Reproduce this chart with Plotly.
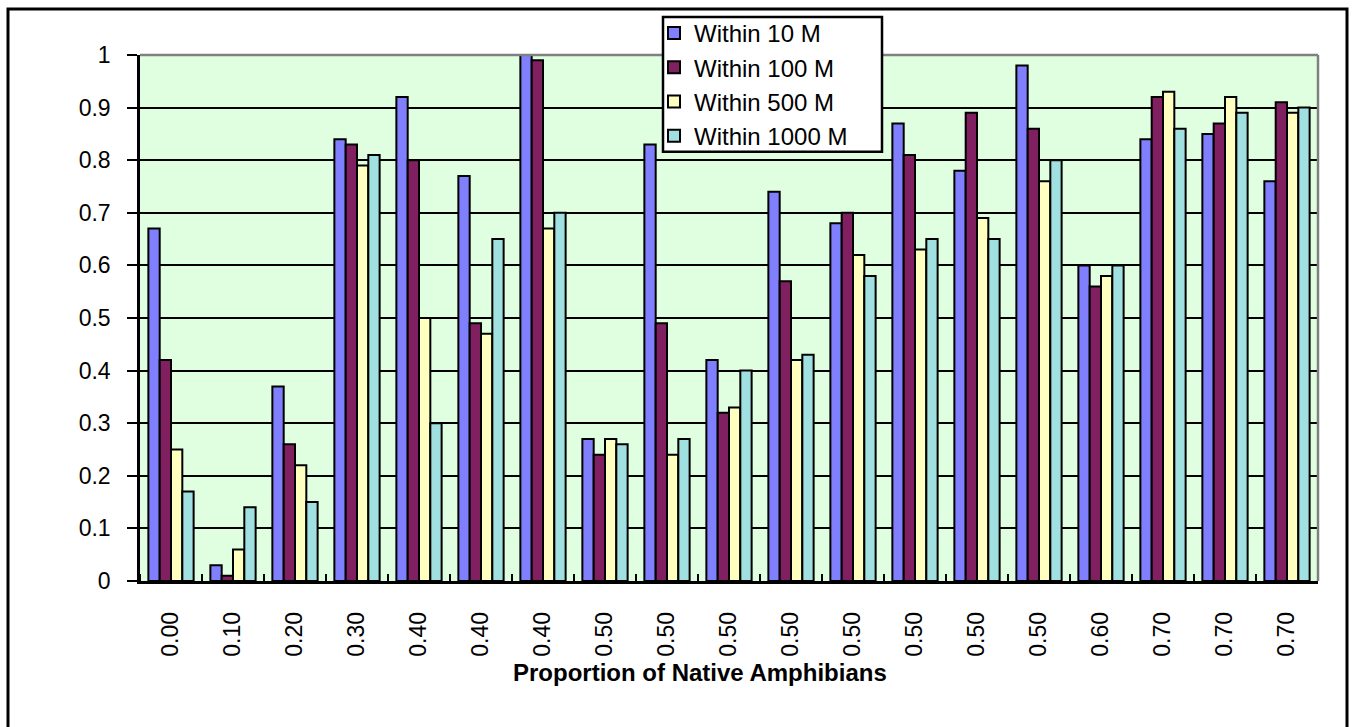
import plotly.graph_objects as go

labels = ["0.00", "0.10", "0.20", "0.30", "0.40", "0.40", "0.40", "0.50", "0.50", "0.50",
          "0.50", "0.50", "0.50", "0.50", "0.50", "0.60", "0.70", "0.70", "0.70"]
w10 = [0.67, 0.03, 0.37, 0.84, 0.92, 0.77, 1.00, 0.27, 0.83, 0.42,
       0.74, 0.68, 0.87, 0.78, 0.98, 0.60, 0.84, 0.85, 0.76]
w100 = [0.42, 0.01, 0.26, 0.83, 0.80, 0.49, 0.99, 0.24, 0.49, 0.32,
        0.57, 0.70, 0.81, 0.89, 0.86, 0.56, 0.92, 0.87, 0.91]
w500 = [0.25, 0.06, 0.22, 0.79, 0.50, 0.47, 0.67, 0.27, 0.24, 0.33,
        0.42, 0.62, 0.63, 0.69, 0.76, 0.58, 0.93, 0.92, 0.89]
w1000 = [0.17, 0.14, 0.15, 0.81, 0.30, 0.65, 0.70, 0.26, 0.27, 0.40,
         0.43, 0.58, 0.65, 0.65, 0.80, 0.60, 0.86, 0.89, 0.90]
series_names = ["Within 10 M", "Within 100 M", "Within 500 M", "Within 1000 M"]
series_colors = ["#8080FF", "#802060", "#FFFFC0", "#A0E0E0"]

W, H = 1352, 727
L, R, T, B = 140, 1318, 54, 581  # plot area in pixels
pw, ph = R - L, B - T

def px(xp):
    return (xp - L) / pw

def py(yp):
    return (B - yp) / ph

FONT = "Arial, Liberation Sans, sans-serif"
xs = list(range(len(labels)))

fig = go.Figure()
for i, (name, vals, col) in enumerate(zip(series_names, [w10, w100, w500, w1000], series_colors)):
    fig.add_trace(go.Bar(
        x=xs, y=vals, name=name,
        marker=dict(color=col, line=dict(color="black", width=2)),
    ))

fig.update_layout(
    width=W, height=H,
    margin=dict(l=L, r=W - R, t=T, b=H - B, pad=0),
    paper_bgcolor="white",
    plot_bgcolor="#E0FFE0",
    barmode="group",
    bargap=0.27,
    bargroupgap=0,
    font=dict(family=FONT, size=23, color="black"),
    showlegend=True,
    legend=dict(
        x=px(654), y=py(11), xanchor="left", yanchor="top",
        bgcolor="rgba(0,0,0,0)", borderwidth=0,
        font=dict(family=FONT, size=24, color="black"),
        traceorder="normal",
    ),
    xaxis=dict(
        range=[-0.5, len(labels) - 0.5],
        tickmode="array", tickvals=xs, ticktext=labels,
        tickangle=-90, ticks="",
        showline=True, linecolor="black", linewidth=2.5,
        showgrid=False, zeroline=False,
        ticklabelstandoff=19,
        tickfont=dict(family=FONT, size=23),
        minor=dict(tick0=-0.5, dtick=1, ticks="inside", ticklen=7,
                   tickcolor="black", tickwidth=2, showgrid=False),
    ),
    yaxis=dict(
        range=[0, 1], dtick=0.1, tick0=0,
        ticks="outside", ticklen=10, tickcolor="black", tickwidth=2,
        showline=True, linecolor="black", linewidth=2.5,
        showgrid=True, gridcolor="black", gridwidth=1.6,
        zeroline=False,
        ticklabelstandoff=12,
        tickfont=dict(family=FONT, size=23),
    ),
    shapes=[
        dict(type="line", xref="paper", yref="paper", x0=0, x1=1, y0=1, y1=1,
             line=dict(color="#808080", width=2.5), layer="above"),
        dict(type="line", xref="paper", yref="paper", x0=1, x1=1, y0=0, y1=1,
             line=dict(color="#808080", width=2.5), layer="above"),
        dict(type="rect", xref="paper", yref="paper",
             x0=px(663), x1=px(882), y0=py(151), y1=py(16),
             fillcolor="white", line=dict(color="black", width=2.5), layer="above"),
        dict(type="rect", xref="paper", yref="paper",
             x0=px(8), x1=px(1347), y0=py(745), y1=py(8),
             fillcolor="rgba(0,0,0,0)", line=dict(color="black", width=3), layer="above"),
    ],
    annotations=[
        dict(text="<b>Proportion of Native Amphibians</b>", xref="paper", yref="paper",
             x=px(700), y=py(673), xanchor="center", yanchor="middle", showarrow=False,
             font=dict(family=FONT, size=24, color="black")),
    ],
)

fig.write_html("out.html")
